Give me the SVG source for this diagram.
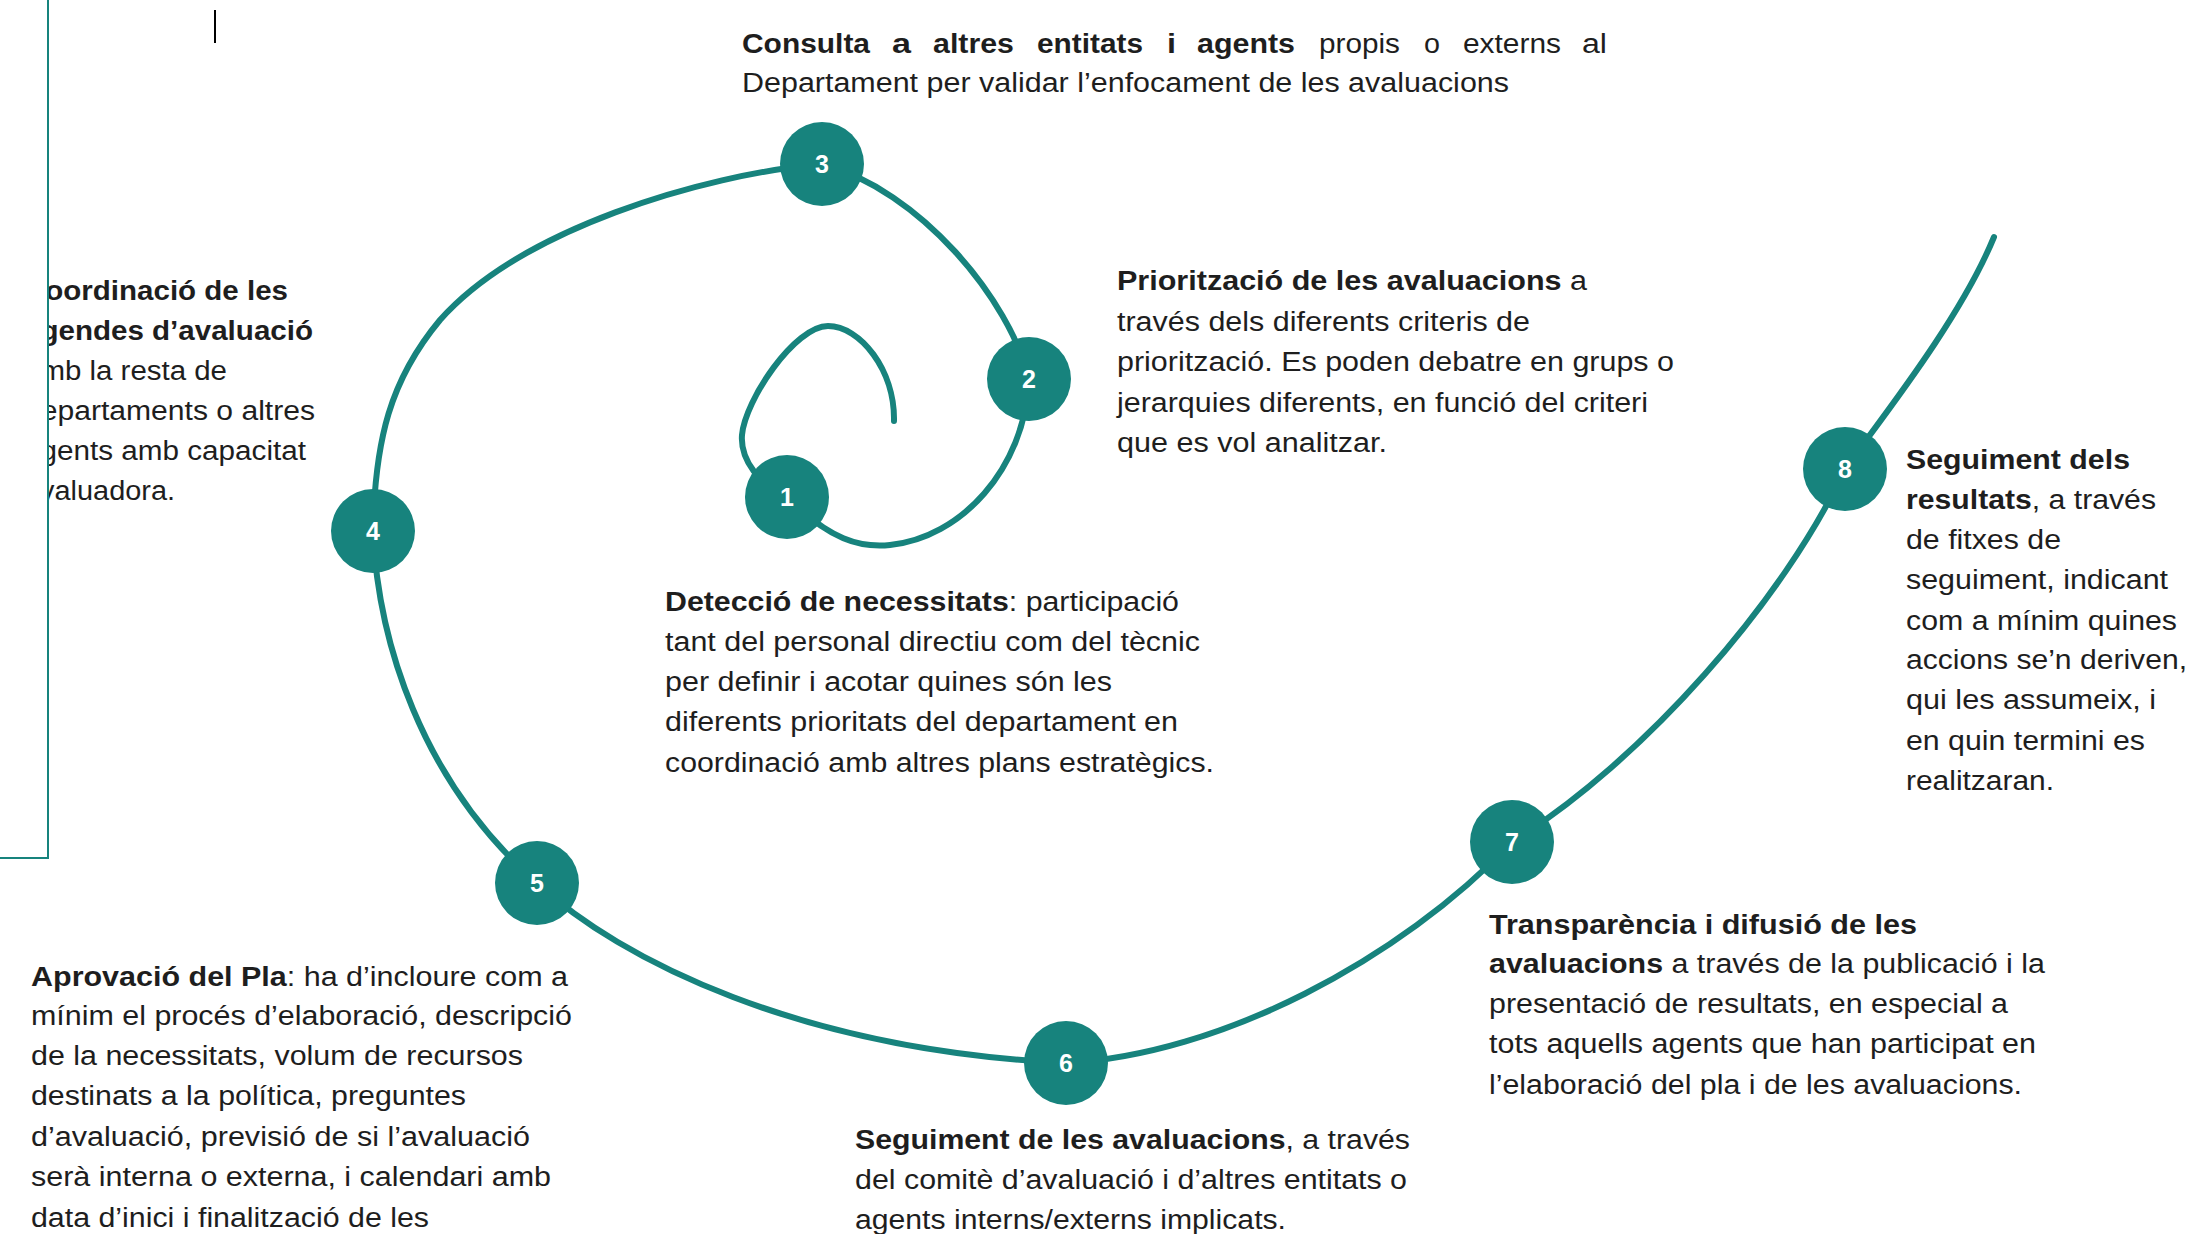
<svg xmlns="http://www.w3.org/2000/svg" width="2193" height="1234" viewBox="0 0 2193 1234">
<defs>
<style>
.t{font-family:"Liberation Sans",Arial,sans-serif;font-size:27px;fill:#1e1e1e}
.b{font-weight:bold}
.num{font-family:"Liberation Sans",Arial,sans-serif;font-size:25px;font-weight:bold;fill:#ffffff;text-anchor:middle}
.dot{fill:#17837d}
.sp{fill:none;stroke:#17837d;stroke-width:6;stroke-linecap:round}
</style>
<clipPath id="clipL"><rect x="49" y="0" width="400" height="860"/></clipPath>
</defs>
<rect width="2193" height="1234" fill="#ffffff"/>
<path d="M48 0 V858 H0" fill="none" stroke="#17837d" stroke-width="2"/>
<line x1="215" y1="10" x2="215" y2="43" stroke="#000" stroke-width="2"/>

<g id="connectors">
<path class="sp" d="M894,421 C895,370 860,326 828,326 C795,326 745,400 742,435 C740,460 760,485 787,497"/>
<path class="sp" d="M787,497 C830,540 860,548 890,545 C960,538 1025,470 1029,379"/>
<path class="sp" d="M1029,379 C1010,300 920,190 822,164"/>
<path class="sp" d="M822,164 C700,175 520,230 440,320 C390,380 375,440 373,531"/>
<path class="sp" d="M373,531 C378,640 420,780 537,883"/>
<path class="sp" d="M537,883 C620,960 800,1050 1066,1063"/>
<path class="sp" d="M1066,1063 C1220,1055 1400,960 1512,842"/>
<path class="sp" d="M1512,842 C1642,762 1785,599 1845,469"/>
<path class="sp" d="M1845,469 C1880,420 1960,320 1994,237"/>
</g>

<g id="node-1">
<circle class="dot" cx="787" cy="497" r="42"/>
<text class="num" x="787" y="506">1</text>
<text class="t" x="665" y="611" textLength="514" lengthAdjust="spacingAndGlyphs"><tspan class="b">Detecció de necessitats</tspan>: participació</text>
<text class="t" x="665" y="651" textLength="535" lengthAdjust="spacingAndGlyphs">tant del personal directiu com del tècnic</text>
<text class="t" x="665" y="691" textLength="447" lengthAdjust="spacingAndGlyphs">per definir i acotar quines són les</text>
<text class="t" x="665" y="731" textLength="513" lengthAdjust="spacingAndGlyphs">diferents prioritats del departament en</text>
<text class="t" x="665" y="772" textLength="549" lengthAdjust="spacingAndGlyphs">coordinació amb altres plans estratègics.</text>
</g>

<g id="node-2">
<circle class="dot" cx="1029" cy="379" r="42"/>
<text class="num" x="1029" y="388">2</text>
<text class="t" x="1117" y="290" textLength="470" lengthAdjust="spacingAndGlyphs"><tspan class="b">Priorització de les avaluacions</tspan> a</text>
<text class="t" x="1117" y="331" textLength="413" lengthAdjust="spacingAndGlyphs">través dels diferents criteris de</text>
<text class="t" x="1117" y="371" textLength="557" lengthAdjust="spacingAndGlyphs">priorització. Es poden debatre en grups o</text>
<text class="t" x="1117" y="412" textLength="531" lengthAdjust="spacingAndGlyphs">jerarquies diferents, en funció del criteri</text>
<text class="t" x="1117" y="452" textLength="270" lengthAdjust="spacingAndGlyphs">que es vol analitzar.</text>
</g>

<g id="node-3">
<circle class="dot" cx="822" cy="164" r="42"/>
<text class="num" x="822" y="173">3</text>
<text class="t b" x="742" y="53" textLength="128" lengthAdjust="spacingAndGlyphs">Consulta</text>
<text class="t b" x="892" y="53" textLength="19" lengthAdjust="spacingAndGlyphs">a</text>
<text class="t b" x="933" y="53" textLength="81" lengthAdjust="spacingAndGlyphs">altres</text>
<text class="t b" x="1037" y="53" textLength="106" lengthAdjust="spacingAndGlyphs">entitats</text>
<text class="t b" x="1167" y="53" textLength="9" lengthAdjust="spacingAndGlyphs">i</text>
<text class="t b" x="1197" y="53" textLength="98" lengthAdjust="spacingAndGlyphs">agents</text>
<text class="t" x="1319" y="53" textLength="81" lengthAdjust="spacingAndGlyphs">propis</text>
<text class="t" x="1424" y="53" textLength="16" lengthAdjust="spacingAndGlyphs">o</text>
<text class="t" x="1463" y="53" textLength="98" lengthAdjust="spacingAndGlyphs">externs</text>
<text class="t" x="1582" y="53" textLength="25" lengthAdjust="spacingAndGlyphs">al</text>
<text class="t" x="742" y="92" textLength="767" lengthAdjust="spacingAndGlyphs">Departament per validar l’enfocament de les avaluacions</text>
</g>

<g id="node-4">
<circle class="dot" cx="373" cy="531" r="42"/>
<text class="num" x="373" y="540">4</text>
<g clip-path="url(#clipL)">
<text class="t b" x="24" y="300" textLength="264" lengthAdjust="spacingAndGlyphs">Coordinació de les</text>
<text class="t b" x="24" y="340" textLength="289" lengthAdjust="spacingAndGlyphs">agendes d’avaluació</text>
<text class="t" x="24" y="380" textLength="203" lengthAdjust="spacingAndGlyphs">amb la resta de</text>
<text class="t" x="24" y="420" textLength="291" lengthAdjust="spacingAndGlyphs">departaments o altres</text>
<text class="t" x="24" y="460" textLength="282" lengthAdjust="spacingAndGlyphs">agents amb capacitat</text>
<text class="t" x="24" y="500" textLength="151" lengthAdjust="spacingAndGlyphs">avaluadora.</text>
</g>
</g>

<g id="node-5">
<circle class="dot" cx="537" cy="883" r="42"/>
<text class="num" x="537" y="892">5</text>
<text class="t" x="31" y="986" textLength="537" lengthAdjust="spacingAndGlyphs"><tspan class="b">Aprovació del Pla</tspan>: ha d’incloure com a</text>
<text class="t" x="31" y="1025" textLength="541" lengthAdjust="spacingAndGlyphs">mínim el procés d’elaboració, descripció</text>
<text class="t" x="31" y="1065" textLength="492" lengthAdjust="spacingAndGlyphs">de la necessitats, volum de recursos</text>
<text class="t" x="31" y="1105" textLength="435" lengthAdjust="spacingAndGlyphs">destinats a la política, preguntes</text>
<text class="t" x="31" y="1146" textLength="499" lengthAdjust="spacingAndGlyphs">d’avaluació, previsió de si l’avaluació</text>
<text class="t" x="31" y="1186" textLength="520" lengthAdjust="spacingAndGlyphs">serà interna o externa, i calendari amb</text>
<text class="t" x="31" y="1227" textLength="398" lengthAdjust="spacingAndGlyphs">data d’inici i finalització de les</text>
</g>

<g id="node-6">
<circle class="dot" cx="1066" cy="1063" r="42"/>
<text class="num" x="1066" y="1072">6</text>
<text class="t" x="855" y="1149" textLength="555" lengthAdjust="spacingAndGlyphs"><tspan class="b">Seguiment de les avaluacions</tspan>, a través</text>
<text class="t" x="855" y="1189" textLength="552" lengthAdjust="spacingAndGlyphs">del comitè d’avaluació i d’altres entitats o</text>
<text class="t" x="855" y="1229" textLength="431" lengthAdjust="spacingAndGlyphs">agents interns/externs implicats.</text>
</g>

<g id="node-7">
<circle class="dot" cx="1512" cy="842" r="42"/>
<text class="num" x="1512" y="851">7</text>
<text class="t b" x="1489" y="934" textLength="428" lengthAdjust="spacingAndGlyphs">Transparència i difusió de les</text>
<text class="t" x="1489" y="973" textLength="556" lengthAdjust="spacingAndGlyphs"><tspan class="b">avaluacions</tspan> a través de la publicació i la</text>
<text class="t" x="1489" y="1013" textLength="519" lengthAdjust="spacingAndGlyphs">presentació de resultats, en especial a</text>
<text class="t" x="1489" y="1053" textLength="547" lengthAdjust="spacingAndGlyphs">tots aquells agents que han participat en</text>
<text class="t" x="1489" y="1094" textLength="533" lengthAdjust="spacingAndGlyphs">l’elaboració del pla i de les avaluacions.</text>
</g>

<g id="node-8">
<circle class="dot" cx="1845" cy="469" r="42"/>
<text class="num" x="1845" y="478">8</text>
<text class="t b" x="1906" y="469" textLength="224" lengthAdjust="spacingAndGlyphs">Seguiment dels</text>
<text class="t" x="1906" y="509" textLength="250" lengthAdjust="spacingAndGlyphs"><tspan class="b">resultats</tspan>, a través</text>
<text class="t" x="1906" y="549" textLength="155" lengthAdjust="spacingAndGlyphs">de fitxes de</text>
<text class="t" x="1906" y="589" textLength="262" lengthAdjust="spacingAndGlyphs">seguiment, indicant</text>
<text class="t" x="1906" y="630" textLength="271" lengthAdjust="spacingAndGlyphs">com a mínim quines</text>
<text class="t" x="1906" y="669" textLength="281" lengthAdjust="spacingAndGlyphs">accions se’n deriven,</text>
<text class="t" x="1906" y="709" textLength="250" lengthAdjust="spacingAndGlyphs">qui les assumeix, i</text>
<text class="t" x="1906" y="750" textLength="239" lengthAdjust="spacingAndGlyphs">en quin termini es</text>
<text class="t" x="1906" y="790" textLength="148" lengthAdjust="spacingAndGlyphs">realitzaran.</text>
</g>
</svg>
